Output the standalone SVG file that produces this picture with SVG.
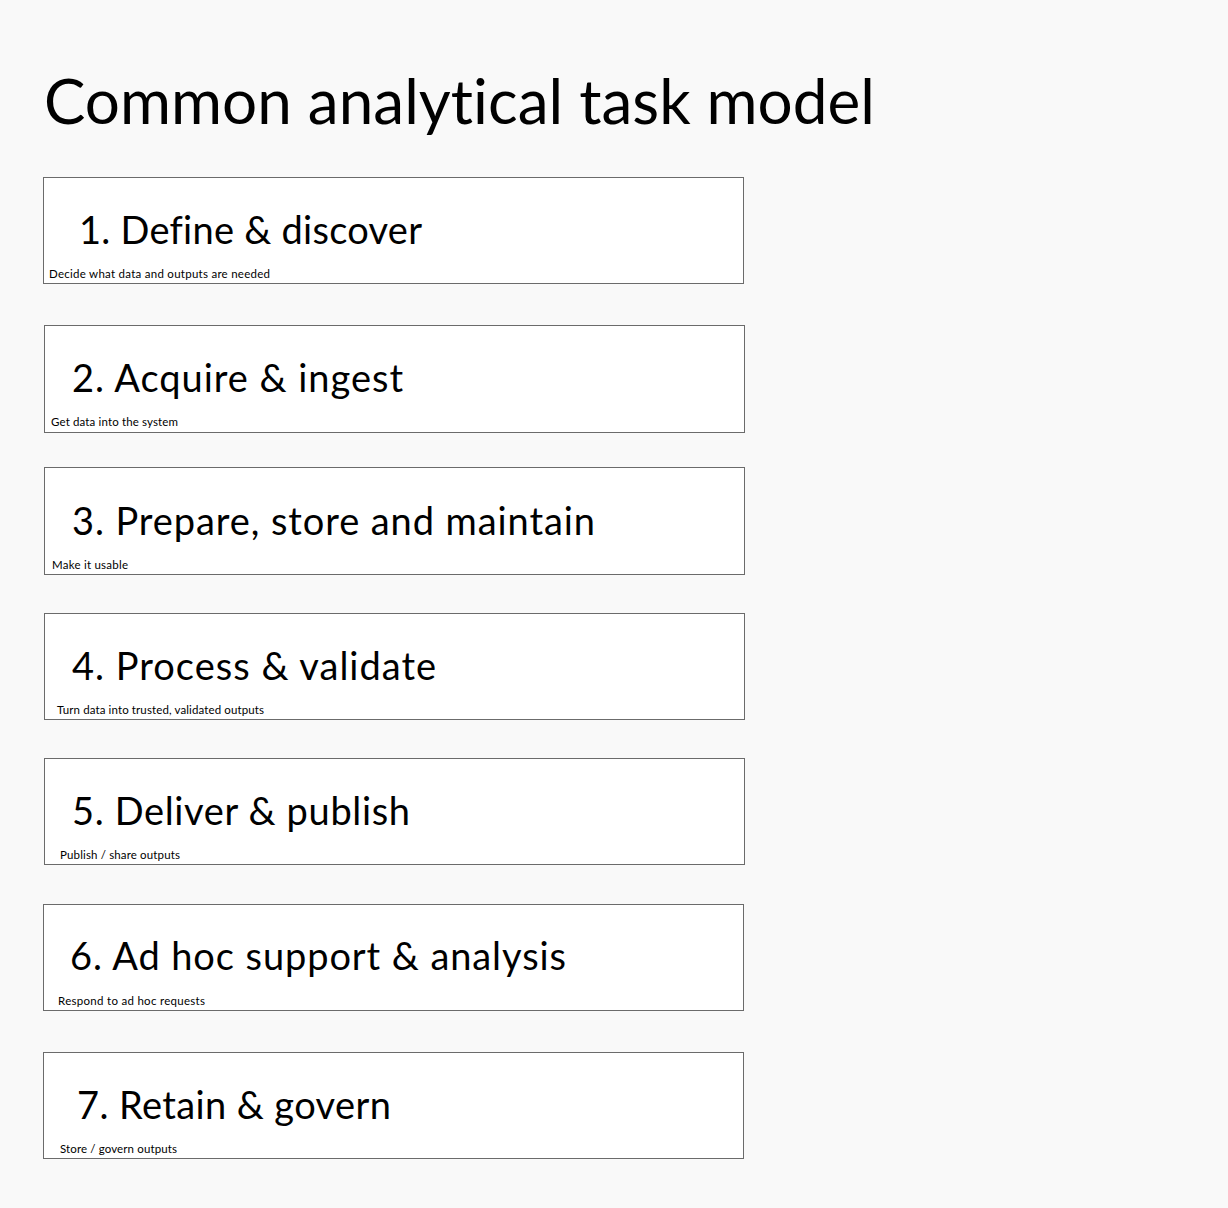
<svg xmlns="http://www.w3.org/2000/svg" width="1228" height="1208" viewBox="0 0 1228 1208">
<style>
.box{fill:#ffffff;stroke:#6b6b6b;stroke-width:1}
text{font-family:Lato,"Open Sans","Liberation Sans",sans-serif;fill:#000;font-variant-ligatures:none;font-feature-settings:"liga" 0,"clig" 0}
.t{font-size:38px}
.s{font-size:11.5px}
.h{font-size:62px}
</style>
<rect width="1228" height="1208" fill="#f9f9f9"/>
<text class="h" x="44" y="124" textLength="831">Common analytical task model</text>
<g id="node1"><rect class="box" x="43.5" y="177.5" width="700" height="106"/><text class="t" x="79" y="244" textLength="343">1. Define &amp; discover</text><text class="s" x="49" y="278" textLength="221">Decide what data and outputs are needed</text></g>
<g id="node2"><rect class="box" x="44.5" y="325.5" width="700" height="107"/><text class="t" x="72" y="392" textLength="331">2. Acquire &amp; ingest</text><text class="s" x="51" y="426" textLength="127">Get data into the system</text></g>
<g id="node3"><rect class="box" x="44.5" y="467.5" width="700" height="107"/><text class="t" x="72" y="535" textLength="523">3. Prepare, store and maintain</text><text class="s" x="52" y="569" textLength="76">Make it usable</text></g>
<g id="node4"><rect class="box" x="44.5" y="613.5" width="700" height="106"/><text class="t" x="72" y="680" textLength="364">4. Process &amp; validate</text><text class="s" x="57" y="714" textLength="207">Turn data into trusted, validated outputs</text></g>
<g id="node5"><rect class="box" x="44.5" y="758.5" width="700" height="106"/><text class="t" x="72" y="825" textLength="338">5. Deliver &amp; publish</text><text class="s" x="60" y="859" textLength="120">Publish / share outputs</text></g>
<g id="node6"><rect class="box" x="43.5" y="904.5" width="700" height="106"/><text class="t" x="70" y="970" textLength="496">6. Ad hoc support &amp; analysis</text><text class="s" x="58" y="1005" textLength="147">Respond to ad hoc requests</text></g>
<g id="node7"><rect class="box" x="43.5" y="1052.5" width="700" height="106"/><text class="t" x="77" y="1119" textLength="314">7. Retain &amp; govern</text><text class="s" x="60" y="1153" textLength="117">Store / govern outputs</text></g>
<g id="connectors"></g>
</svg>
